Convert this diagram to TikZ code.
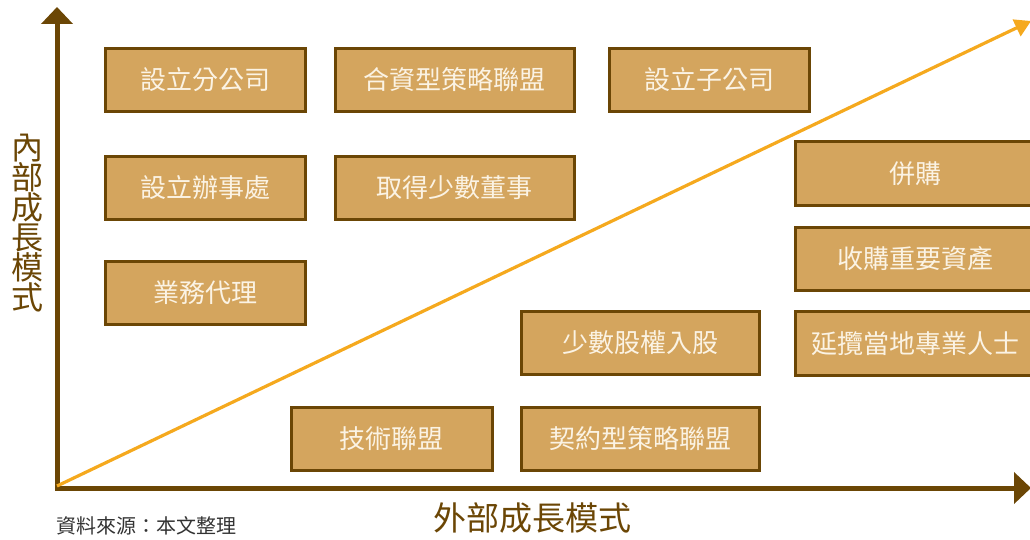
\documentclass[tikz,border=0pt]{standalone}
\usepackage{fontspec}
\setmainfont{Noto Sans CJK TC}
\usetikzlibrary{arrows.meta}
\definecolor{boxfill}{HTML}{D4A55E}
\definecolor{brownline}{HTML}{6B4605}
\definecolor{boxtext}{HTML}{FBF3E4}
\definecolor{trend}{HTML}{F5A91E}
\definecolor{srcgray}{HTML}{333333}
\tikzset{
  cell/.style={draw=brownline, line width=2.6pt, fill=boxfill, text=boxtext,
    font=\fontsize{26}{28}\selectfont, inner sep=0pt, anchor=north west},
  axisline/.style={draw=brownline, line width=5pt,
    -{Triangle[width=31pt,length=17pt]}},
  axislabel/.style={text=brownline, font=\fontsize{33}{33}\selectfont},
}
\begin{document}
\begin{tikzpicture}[x=1pt,y=-1pt]
\useasboundingbox (0,0) rectangle (1030,540);
\clip (0,0) rectangle (1030,540);
% boxes
\node[cell, minimum width=200pt, minimum height=63pt] (b1) at (104,47) {設立分公司};
\node[cell, minimum width=239pt, minimum height=63pt] (b2) at (334,47) {合資型策略聯盟};
\node[cell, minimum width=200pt, minimum height=63pt] (b3) at (608,47) {設立子公司};
\node[cell, minimum width=200pt, minimum height=63pt] (b4) at (104,155) {設立辦事處};
\node[cell, minimum width=239pt, minimum height=63pt] (b5) at (334,155) {取得少數董事};
\node[cell, minimum width=200pt, minimum height=63pt] (b6) at (104,260) {業務代理};
\node[cell, minimum width=240pt, minimum height=64pt] (b7) at (794,140) {併購};
\node[cell, minimum width=240pt, minimum height=63pt] (b8) at (794,226) {收購重要資產};
\node[cell, minimum width=240pt, minimum height=64pt] (b9) at (794,310) {延攬當地專業人士};
\node[cell, minimum width=238pt, minimum height=63pt] (b10) at (520,310) {少數股權入股};
\node[cell, minimum width=201pt, minimum height=63pt] (b11) at (290,406) {技術聯盟};
\node[cell, minimum width=238pt, minimum height=63pt] (b12) at (520,406) {契約型策略聯盟};
% axes
\coordinate (ytail) at (57,490);
\coordinate (ytip) at (57,7);
\coordinate (xtip) at (1031,488);
\coordinate (xstart) at (55,488);
\draw[axisline] (ytail) -- (ytip);
\draw[axisline] (xstart) -- (xtip);
% trend arrow
\coordinate (tstart) at (57,486);
\coordinate (ttip) at (1031,21);
\draw[trend, line width=3.2pt, -{Triangle[width=18pt,length=16pt]}] (tstart) -- (ttip);
% labels
\node[text=brownline, font=\fontsize{32}{30}\selectfont, align=center, inner sep=0pt] (ylab) at (28,223)
  {內\\部\\成\\長\\模\\式};
\node[axislabel, inner sep=0pt] (xlab) at (532,518) {外部成長模式};
\node[text=srcgray, font=\fontsize{20}{22}\selectfont, anchor=west, inner sep=0pt] (src) at (56,526) {資料來源：本文整理};
\end{tikzpicture}
\end{document}
